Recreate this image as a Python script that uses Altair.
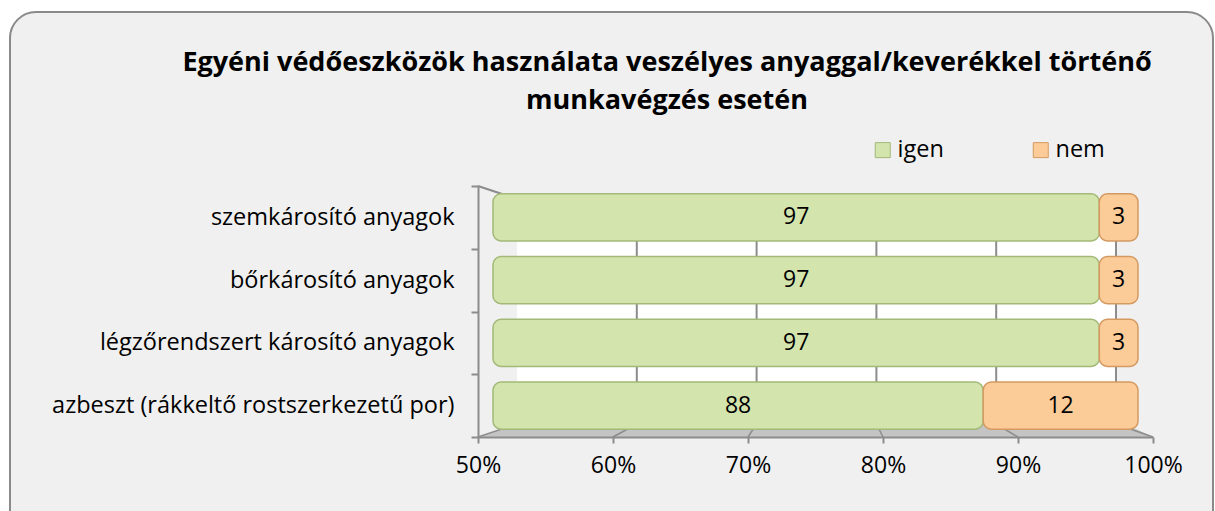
import altair as alt
import pandas as pd

# ---------------- data ----------------
categories = [
    "szemkárosító anyagok",
    "bőrkárosító anyagok",
    "légzőrendszert károsító anyagok",
    "azbeszt (rákkeltő rostszerkezetű por)",
]
igen = [97, 97, 97, 88]
nem = [3, 3, 3, 12]
series = ["igen", "nem"]
tick_values = [50, 60, 70, 80, 90, 100]
title_lines = [
    "Egyéni védőeszközök használata veszélyes anyaggal/keverékkel történő",
    "munkavégzés esetén",
]

# ---------------- layout constants ----------------
AX_MIN, AX_MAX = 50, 100
W, H = 675, 251
FONT = "Open Sans"
GREEN, ORANGE = "#d3e4ad", "#fbcb98"
GREEN_EDGE, ORANGE_EDGE = "#a3b978", "#d49a62"
GRID = "#8c8c8c"

# pseudo-3D planes: front (axis), middle (bars), back (wall)
BAR_OFF = 15
WALL_L, WALL_R, WALL_TOP, WALL_BOT = 39, 638, 11, 238

bar_px = (W - 2 * BAR_OFF) / (AX_MAX - AX_MIN)
bar_dom = [AX_MIN - BAR_OFF / bar_px, AX_MAX + BAR_OFF / bar_px]
wall_px = (WALL_R - WALL_L) / (AX_MAX - AX_MIN)
wall_dom = [AX_MIN - WALL_L / wall_px, AX_MAX + (W - WALL_R) / wall_px]
front_px = W / (AX_MAX - AX_MIN)

rows = []
for c, a, b in zip(categories, igen, nem):
    s0 = max(0, AX_MIN)
    rows.append(dict(cat=c, series="igen", start=s0, end=a, label=str(a), mid=(s0 + a) / 2))
    rows.append(dict(cat=c, series="nem", start=a, end=a + b, label=str(b), mid=a + b / 2))
bars_df = pd.DataFrame(rows)

ticks_df = pd.DataFrame({"t": tick_values})
diag_df = pd.DataFrame({
    "xb": [WALL_L + (v - AX_MIN) * wall_px for v in tick_values],
    "xf": [(v - AX_MIN) * front_px for v in tick_values],
})
floor_df = pd.DataFrame({"py": [WALL_BOT, H], "xl": [WALL_L, 0], "xr": [WALL_R + 9, W]})
one = pd.DataFrame({"a": [0]})
title_df = pd.DataFrame({"line": title_lines, "ty": [-115, -77]})

front_scale = alt.Scale(domain=[AX_MIN, AX_MAX], nice=False, zero=False)
bar_scale = alt.Scale(domain=bar_dom, nice=False, zero=False)
wall_scale = alt.Scale(domain=wall_dom, nice=False, zero=False)
px_x = alt.Scale(domain=[0, W], nice=False, zero=False)
px_y = alt.Scale(domain=[0, H], nice=False, zero=False, reverse=True)
y_scale = alt.Scale(domain=categories, paddingInner=0, paddingOuter=0)

# ---------------- layers ----------------
frame = alt.Chart(one).mark_rect(
    fill="#f0f0f0", stroke="#8a8a8a", strokeWidth=2, cornerRadius=26
).encode(x=alt.value(-468), x2=alt.value(735), y=alt.value(-174), y2=alt.value(380))

title = alt.Chart(title_df).mark_text(
    font=FONT, fontSize=27, fontWeight="bold", color="black", align="center", baseline="alphabetic"
).encode(
    x=alt.value(189),
    y=alt.Y("ty:Q", scale=alt.Scale(domain=[0, H], range=[0, H], nice=False, zero=False), axis=None),
    text="line:N",
)

wall = alt.Chart(pd.DataFrame({"x0": [AX_MIN], "x1": [AX_MAX]})).mark_rect(fill="white").encode(
    x=alt.X("x0:Q", scale=wall_scale, axis=None), x2="x1:Q",
    y=alt.value(WALL_TOP), y2=alt.value(WALL_BOT),
)

grid = alt.Chart(ticks_df[ticks_df.t > AX_MIN]).mark_rule(color=GRID, strokeWidth=2).encode(
    x=alt.X("t:Q", scale=wall_scale, axis=None),
    y=alt.value(WALL_TOP), y2=alt.value(WALL_BOT),
)

floor = alt.Chart(floor_df).mark_area(orient="horizontal", fill="#c4c4c4").encode(
    y=alt.Y("py:Q", scale=px_y, axis=None),
    x=alt.X("xl:Q", scale=px_x, axis=None), x2="xr:Q",
)

diag = alt.Chart(diag_df).mark_rule(color=GRID, strokeWidth=1.5).encode(
    x=alt.X("xb:Q", scale=px_x, axis=None), x2="xf:Q",
    y=alt.value(WALL_BOT), y2=alt.value(H),
)

top_diag = alt.Chart(one).mark_rule(color=GRID, strokeWidth=2).encode(
    x=alt.value(0), x2=alt.value(33), y=alt.value(0), y2=alt.value(WALL_TOP)
)

front_axis = alt.Chart(ticks_df).mark_point(opacity=0).encode(
    x=alt.X("t:Q", scale=front_scale, axis=alt.Axis(
        values=tick_values, labelExpr="datum.value + '%'", title=None, grid=False,
        labelFont=FONT, labelFontSize=23, labelColor="black", labelPadding=11,
        domainColor=GRID, domainWidth=2, tickColor=GRID, tickWidth=2, tickSize=6,
        labelFlush=False, zindex=1,
    )),
    y=alt.value(H),
)

bars = alt.Chart(bars_df).mark_bar(height={"band": 0.75}, cornerRadius=8, strokeWidth=1.5).encode(
    x=alt.X("start:Q", scale=bar_scale, axis=None),
    x2="end:Q",
    y=alt.Y("cat:N", scale=y_scale, sort=categories, axis=alt.Axis(
        title=None, grid=False, labelFont=FONT, labelFontSize=23.5, labelColor="black",
        labelLimit=600, labelPadding=17, tickBand="extent", tickSize=7,
        tickColor=GRID, tickWidth=2, domainColor=GRID, domainWidth=2, zindex=1,
    )),
    color=alt.Color("series:N", scale=alt.Scale(domain=series, range=[GREEN, ORANGE]),
                    legend=alt.Legend(
                        title=None, orient="none", legendX=393, legendY=-48,
                        direction="horizontal", symbolType="square", symbolSize=225,
                        symbolStrokeWidth=1, symbolStrokeColor="#8a9a6a",
                        labelFont=FONT, labelFontSize=23.5, labelColor="black",
                        labelOffset=3, columnPadding=85, padding=0, zindex=1,
                    )),
    stroke=alt.Stroke("series:N", scale=alt.Scale(domain=series, range=[GREEN_EDGE, ORANGE_EDGE]),
                      legend=None),
    order=alt.Order("series:N"),
)

labels = alt.Chart(bars_df).mark_text(font=FONT, fontSize=23, color="black").encode(
    x=alt.X("mid:Q", scale=bar_scale, axis=None),
    y=alt.Y("cat:N", scale=y_scale, sort=categories, axis=None),
    text="label:N",
)

chart = alt.layer(
    frame, title, wall, grid, floor, diag, top_diag, front_axis, bars, labels
).resolve_scale(
    x="independent", y="independent", color="independent", stroke="independent"
).properties(
    width=W, height=H,
    autosize=alt.AutoSizeParams(type="none"),
    padding={"left": 478, "top": 186, "right": 62, "bottom": 74},
    background="white",
).configure_view(stroke=None)

chart.save("out.html", embed_options={"renderer": "svg", "actions": False})
